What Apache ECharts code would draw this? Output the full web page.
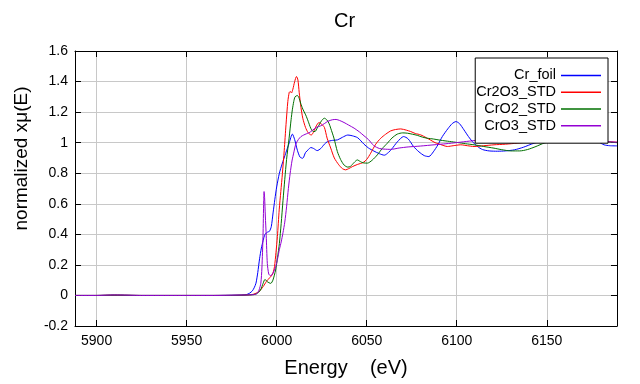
<!DOCTYPE html>
<html>
<head>
<meta charset="utf-8">
<script src="https://cdn.jsdelivr.net/npm/echarts@6/dist/echarts.min.js"></script>
<style>html,body{margin:0;padding:0;background:#fff;}#c{width:640px;height:384px;}</style>
</head>
<body>
<div id="c"></div>
<script>
const seriesNames = ['Cr_foil', 'Cr2O3_STD', 'CrO2_STD', 'CrO3_STD'];
const xTickLabels = ['5900', '5950', '6000', '6050', '6100', '6150'];

const crFoil = [[5888,0],[5900,0],[5910,0.002],[5925,0],[5945,0],[5965,0],[5978,0.002],[5983,0.005],[5985,0.015],[5986.5,0.03],[5987.5,0.05],[5988.5,0.08],[5989.5,0.15],[5990.5,0.24],[5991.5,0.31],[5992.5,0.36],[5993.5,0.40],[5995,0.415],[5996,0.42],[5997,0.45],[5998,0.54],[5999,0.63],[6000,0.71],[6001.5,0.80],[6003,0.86],[6005,0.93],[6007,1.0],[6008.7,1.056],[6010,1.02],[6011.5,0.95],[6013,0.905],[6014.5,0.898],[6016,0.935],[6017.6,0.955],[6019,0.968],[6020.5,0.962],[6022.5,0.948],[6024.5,0.962],[6026.5,0.99],[6028.2,1.007],[6031,1.015],[6033.7,1.018],[6036.5,1.035],[6039.5,1.05],[6042,1.045],[6045,1.032],[6048.5,0.99],[6051,0.965],[6054,0.945],[6057,0.928],[6059.8,0.918],[6062,0.935],[6064,0.96],[6067,1.005],[6070.5,1.04],[6073,1.025],[6076,0.975],[6079,0.94],[6082,0.915],[6084.5,0.909],[6087,0.94],[6089.5,0.985],[6092,1.04],[6095,1.09],[6097.5,1.125],[6099.6,1.138],[6101.5,1.125],[6104,1.084],[6106.5,1.04],[6108.7,1.007],[6111.5,0.975],[6114.3,0.955],[6118,0.946],[6122.6,0.944],[6127,0.946],[6132,0.953],[6137,0.97],[6143,0.997],[6149,1.015],[6154,1.03],[6158,1.05],[6162,1.075],[6166,1.084],[6169.5,1.075],[6174.4,1.04],[6178,1.01],[6181.8,0.986],[6185,0.98],[6189,0.979]];

const cr2o3 = [[5888,0],[5900,0],[5910,0.002],[5925,0],[5945,0],[5965,0],[5978,0.001],[5986,0.005],[5988,0.012],[5990,0.024],[5992,0.05],[5993,0.067],[5994.8,0.10],[5996.7,0.122],[5997.9,0.145],[5998.8,0.19],[5999.6,0.28],[6000.4,0.385],[6001.4,0.56],[6002.3,0.68],[6003.2,0.80],[6004.2,0.95],[6005.2,1.12],[6006.2,1.27],[6007,1.33],[6007.6,1.335],[6008.2,1.325],[6009,1.35],[6010,1.40],[6011,1.433],[6011.8,1.41],[6012.5,1.33],[6013.5,1.23],[6014.5,1.16],[6016,1.10],[6017.5,1.065],[6019.2,1.05],[6020.5,1.07],[6022,1.11],[6023.5,1.132],[6025,1.12],[6026.5,1.10],[6028,1.03],[6030,0.965],[6032,0.90],[6034.5,0.855],[6036.5,0.83],[6038.3,0.822],[6040,0.83],[6042,0.843],[6045,0.858],[6048,0.87],[6050,0.89],[6052.2,0.931],[6055,0.99],[6057.8,1.029],[6060.5,1.055],[6063.3,1.077],[6066,1.086],[6068.9,1.09],[6072,1.082],[6074.4,1.073],[6077,1.06],[6080,1.051],[6083,1.033],[6085.6,1.016],[6088,1.0],[6091,0.988],[6094.8,0.975],[6098,0.98],[6102.2,0.986],[6106,0.98],[6109.6,0.975],[6115,0.98],[6120.7,0.986],[6127,0.99],[6133.7,0.997],[6140,1.005],[6146.7,1.012],[6154,1.022],[6161.5,1.029],[6166,1.028],[6170.7,1.025],[6176,1.015],[6182,1.008],[6189,1.003]];

const cro2 = [[5888,0],[5900,0],[5910,0.002],[5925,0],[5945,0],[5965,0],[5978,0.001],[5987,0.005],[5989,0.012],[5991,0.035],[5992.5,0.08],[5993.5,0.105],[5994.8,0.09],[5996.7,0.079],[5997.9,0.10],[5999.4,0.166],[6000.5,0.25],[6001.5,0.34],[6002.5,0.47],[6003.5,0.62],[6004.5,0.76],[6005.5,0.89],[6006.9,1.03],[6008,1.15],[6008.7,1.215],[6009.5,1.27],[6010.2,1.30],[6011.5,1.309],[6012.5,1.29],[6013.3,1.259],[6014.5,1.22],[6016.1,1.182],[6017.5,1.14],[6018.9,1.095],[6020,1.075],[6021.3,1.073],[6022.5,1.095],[6023.5,1.115],[6025,1.145],[6026.5,1.16],[6027.8,1.15],[6029,1.128],[6030,1.095],[6031.8,1.03],[6033.7,0.942],[6035.5,0.89],[6037.4,0.854],[6039.5,0.84],[6041,0.845],[6043,0.87],[6044.8,0.887],[6046.5,0.876],[6048,0.868],[6050.4,0.866],[6053,0.885],[6055.9,0.92],[6058.5,0.96],[6061.5,0.997],[6064,1.03],[6067,1.056],[6070,1.064],[6072.6,1.062],[6075.5,1.055],[6078.1,1.048],[6081,1.036],[6083.7,1.029],[6087,1.024],[6091,1.016],[6096,1.008],[6100.4,1.001],[6105,0.993],[6109.6,0.986],[6115,0.975],[6120.7,0.964],[6125,0.954],[6130,0.946],[6135,0.946],[6139.3,0.955],[6144,0.975],[6148.5,0.997],[6155,1.015],[6161.5,1.023],[6166,1.022],[6170.7,1.018],[6178,1.01],[6189,1.0]];

const cro3 = [[5888,0],[5900,0],[5910,0.003],[5925,0],[5945,0],[5965,0],[5978,0.002],[5987,0.005],[5989,0.012],[5990.2,0.035],[5991.2,0.08],[5991.8,0.18],[5992.4,0.385],[5992.8,0.62],[5993,0.68],[5993.3,0.64],[5993.7,0.52],[5994.2,0.39],[5994.8,0.21],[5995.6,0.14],[5996.5,0.13],[5997.4,0.135],[5998.5,0.16],[5999.5,0.19],[6000.5,0.24],[6001.5,0.30],[6002.5,0.35],[6003.5,0.41],[6004.5,0.48],[6005.5,0.58],[6006.5,0.70],[6007.5,0.80],[6008.5,0.88],[6009.6,0.94],[6010.6,0.99],[6012,1.02],[6013.5,1.04],[6015,1.05],[6016.5,1.058],[6018,1.065],[6019.8,1.08],[6022,1.10],[6024.4,1.11],[6026.5,1.125],[6028.5,1.14],[6030.9,1.15],[6033,1.152],[6035,1.145],[6037.4,1.132],[6040,1.115],[6043,1.095],[6046,1.07],[6048.5,1.045],[6051,1.02],[6054,0.98],[6057,0.962],[6059.6,0.958],[6063.3,0.956],[6068,0.965],[6073,0.972],[6080,0.978],[6087.4,0.986],[6094,0.993],[6100.4,1.001],[6107,1.01],[6113.3,1.018],[6120,1.026],[6126,1.03],[6133,1.033],[6139.3,1.034],[6146,1.03],[6154,1.023],[6162,1.018],[6170.7,1.014],[6180,1.008],[6189,1.003]];

const seriesData = [crFoil, cr2o3, cro2, cro3];
const colors = ['#0000ff', '#ff0000', '#007000', '#9400d3'];

const FONT = "'Liberation Sans', Arial, sans-serif";
const chart = echarts.init(document.getElementById('c'), null, {renderer: 'canvas'});

const xMin = 5888, xMax = 6189;
const commonX = {
  type: 'value', min: xMin, max: xMax, splitNumber: 6,
  axisLine: {show: true, onZero: false, lineStyle: {color: '#000', width: 1}},
  axisTick: {show: true, inside: true, length: 6, lineStyle: {color: '#000'}},
};
const commonY = {
  type: 'value', min: -0.2, max: 1.6, interval: 0.2,
  axisLine: {show: true, onZero: false, lineStyle: {color: '#000', width: 1}},
  axisTick: {show: true, inside: true, length: 6, lineStyle: {color: '#000'}},
};

chart.setOption({
  animation: false,
  backgroundColor: '#fff',
  color: colors,
  title: {
    text: 'Cr', left: 334, top: 11, padding: 0,
    textStyle: {fontFamily: FONT, fontSize: 20, fontWeight: 'normal', color: '#000'}
  },
  legend: {
    data: seriesNames,
    orient: 'vertical', align: 'right',
    right: 32, top: 58,
    padding: [9, 7, 9, 1],
    itemGap: 0, itemWidth: 40, itemHeight: 1.5,
    icon: 'rect',
    backgroundColor: '#fff', borderColor: '#000', borderWidth: 1, borderRadius: 0,
    textStyle: {fontFamily: FONT, fontSize: 14.5, color: '#000', lineHeight: 16.8}
  },
  grid: {left: 75, right: 23, top: 51, bottom: 58, containLabel: false},
  xAxis: [
    Object.assign({}, commonX, {
      position: 'bottom',
      name: 'Energy    (eV)', nameLocation: 'middle', nameGap: 32,
      nameTextStyle: {fontFamily: FONT, fontSize: 20, color: '#000'},
      axisLabel: {
        show: true, showMinLabel: false, showMaxLabel: false, margin: 8,
        fontFamily: FONT, fontSize: 14, color: '#000',
        formatter: function (v) {
          const s = String(Math.round(v));
          return xTickLabels.indexOf(s) >= 0 ? s : '';
        }
      },
      splitLine: {show: true, lineStyle: {color: '#c8c8c8', width: 1}}
    }),
    Object.assign({}, commonX, {
      position: 'top',
      axisLabel: {show: false},
      splitLine: {show: false}
    })
  ],
  yAxis: [
    Object.assign({}, commonY, {
      position: 'left',
      name: 'normalized xμ(E)', nameLocation: 'middle', nameGap: 44,
      nameTextStyle: {fontFamily: FONT, fontSize: 19, color: '#000', padding: [0, 0, 0, 60]},
      axisLabel: {show: true, margin: 7, fontFamily: FONT, fontSize: 14, color: '#000'},
      splitLine: {show: true, lineStyle: {color: '#c8c8c8', width: 1}}
    }),
    Object.assign({}, commonY, {
      position: 'right',
      axisLabel: {show: false},
      splitLine: {show: false}
    })
  ],
  series: seriesNames.map((name, i) => ({
    name: name,
    type: 'line',
    data: seriesData[i],
    xAxisIndex: 0, yAxisIndex: 0,
    showSymbol: false, symbol: 'none',
    smooth: 0.25,
    lineStyle: {color: colors[i], width: 1},
    itemStyle: {color: colors[i]}
  }))
});
</script>
</body>
</html>
